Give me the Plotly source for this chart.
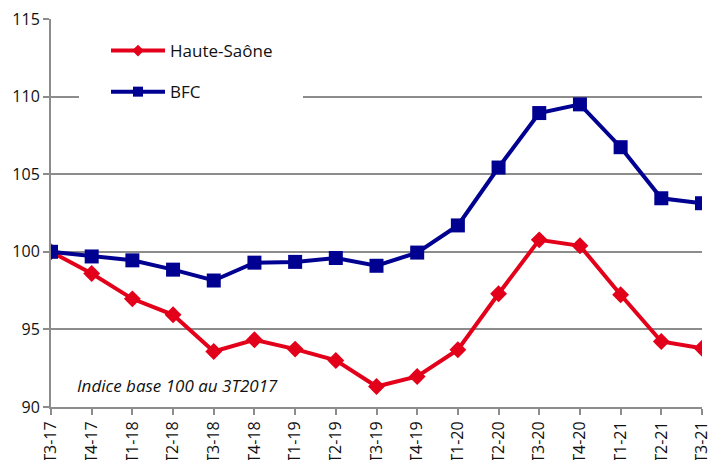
import plotly.graph_objects as go

categories = ["T3-17", "T4-17", "T1-18", "T2-18", "T3-18", "T4-18", "T1-19", "T2-19",
              "T3-19", "T4-19", "T1-20", "T2-20", "T3-20", "T4-20", "T1-21", "T2-21", "T3-21"]
haute_saone = [100, 98.6, 96.97, 95.94, 93.58, 94.33, 93.73, 93.0,
               91.32, 91.97, 93.69, 97.3, 100.77, 100.39, 97.23, 94.22, 93.79]
bfc = [100, 99.7, 99.45, 98.85, 98.15, 99.3, 99.35, 99.6,
       99.1, 99.95, 101.7, 105.43, 108.94, 109.5, 106.74, 103.45, 103.13]
y_ticks = [90, 95, 100, 105, 110, 115]

FONT = "Open Sans"
GRID = "#8c8c8c"
RED = "#e2001a"
BLUE = "#000091"

fig = go.Figure()
fig.add_trace(go.Scatter(
    x=categories, y=haute_saone, name="Haute-Saône", mode="lines+markers",
    line=dict(color=RED, width=4),
    marker=dict(symbol="diamond", size=13, color=RED),
    showlegend=False))
fig.add_trace(go.Scatter(
    x=categories, y=bfc, name="BFC", mode="lines+markers",
    line=dict(color=BLUE, width=4),
    marker=dict(symbol="square", size=14, color=BLUE),
    showlegend=False))
# legend entries (smaller symbols, as in the reference legend)
fig.add_trace(go.Scatter(
    x=[None], y=[None], name="Haute-Saône", mode="lines+markers",
    line=dict(color=RED, width=4), marker=dict(symbol="diamond", size=9, color=RED),
    legendgroup="a"))
fig.add_trace(go.Scatter(
    x=[None], y=[None], name="BFC", mode="lines+markers",
    line=dict(color=BLUE, width=4), marker=dict(symbol="square", size=10, color=BLUE),
    legendgroup="b"))

fig.add_shape(type="rect", xref="paper", yref="paper",
              x0=(79 - 51) / 651, x1=(303 - 51) / 651,
              y0=(407 - 115) / 388, y1=(407 - 78) / 388,
              fillcolor="white", line=dict(width=0), layer="above")

fig.add_annotation(text="<i>Indice base 100 au 3T2017</i>", xref="paper", yref="paper",
                   x=(75 - 51) / 651, y=(407 - 385) / 388, xanchor="left", yanchor="middle",
                   showarrow=False, font=dict(family=FONT, size=17, color="#111111"))

fig.update_layout(
    width=712, height=460,
    margin=dict(l=51, r=10, t=19, b=53),
    paper_bgcolor="white", plot_bgcolor="white",
    font=dict(family=FONT, size=16, color="#111111"),
    legend=dict(x=(106 - 51) / 651, y=(407 - 33) / 388, xanchor="left", yanchor="top",
                bgcolor="rgba(0,0,0,0)", tracegroupgap=16, itemwidth=54,
                font=dict(family=FONT, size=17, color="#111111")),
    xaxis=dict(type="category", categoryarray=categories, range=[0, len(categories) - 1],
               showgrid=False,
               showline=True, linecolor=GRID, linewidth=2, automargin=False,
               ticks="outside", ticklen=6, tickcolor=GRID, tickwidth=2,
               tickangle=-90, tickfont=dict(size=16)),
    yaxis=dict(range=[90, 115], tickvals=y_ticks, showgrid=True, gridcolor=GRID, gridwidth=2,
               showline=True, linecolor=GRID, linewidth=2, zeroline=False, automargin=False,
               ticks="outside", ticklen=6, tickcolor=GRID, tickwidth=2,
               tickfont=dict(size=16)),
)

fig.write_html("out.html", config={"displayModeBar": False},
               post_script="document.body.style.margin='0';document.body.style.overflow='hidden';")
